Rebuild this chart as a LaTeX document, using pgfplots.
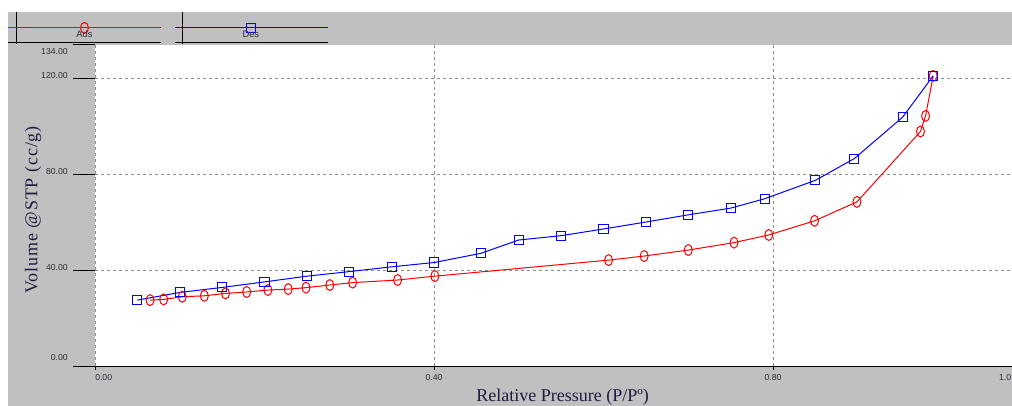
\documentclass[border=0pt]{standalone}
\usepackage{pgfplots}
\pgfplotsset{compat=1.18}
\usepackage{fontspec}
\setmainfont{Liberation Serif}
\newfontfamily\arialf{Liberation Sans}
\definecolor{bggray}{RGB}{192,192,192}
\definecolor{adsred}{RGB}{255,0,0}
\definecolor{desblue}{RGB}{0,0,255}
\definecolor{gridgray}{RGB}{140,140,140}
\definecolor{labnavy}{RGB}{28,28,64}
\definecolor{tickgray}{RGB}{45,45,55}
\pgfplotsset{
  mylegend/.style={legend image code/.code={
    \draw[##1, mark repeat=2, mark phase=2] plot coordinates {(-57pt,0pt) (0pt,0pt) (57.75pt,0pt)};
    \draw[black, line width=0.75pt] (-57pt,-11.25pt) -- (57.75pt,-11.25pt);
    \draw[black, line width=0.75pt] (-51pt,11.5pt) -- (-51pt,-12.5pt);
    \node[font=\arialf\fontsize{7}{8}\selectfont, text=tickgray, inner sep=0pt] at (0pt,-5.6pt) {#1};
  }}
}
\begin{document}
\begin{tikzpicture}
\useasboundingbox (0,0) rectangle (759pt,304.5pt);
\clip (0,0) rectangle (759pt,304.5pt);
\fill[white] (0,0) rectangle (759pt,304.5pt);
\fill[bggray] (6pt,0) rectangle (759pt,295.7pt);
\begin{axis}[
  at={(71.25pt,30pt)}, anchor=south west,
  scale only axis, width=687.75pt, height=240.75pt,
  xmin=0, xmax=1.082, ymin=0, ymax=134,
  axis background/.style={fill=white},
  axis x line*=bottom, axis y line*=left,
  x axis line style={black, line width=0.75pt},
  y axis line style={draw=none},
  xtick={0,0.4,0.8}, xticklabels={,0.40,0.80},
  ytick={40,80,120}, yticklabels={40.00,80.00,120.00},
  grid=major,
  major grid style={gridgray, dash pattern=on 2.25pt off 2.25pt, line width=0.6pt},
  tick align=outside, major tick length=3pt,
  xtick style={black, line width=0.6pt},
  ytick style={draw=none},
  tick label style={font=\arialf\fontsize{6.5}{7}\selectfont, text=tickgray},
  xticklabel style={inner sep=0pt},
  xticklabel shift=3.4pt,
  yticklabel style={inner sep=0pt, yshift=2.25pt},
  yticklabel shift=17.25pt,
  xlabel={Relative Pressure (P/Pº)},
  xlabel style={at={(axis description cs:0.510,-0.0966)}, anchor=center,
    font=\fontsize{13.5}{16}\selectfont, text=labnavy},
  ylabel={Volume @STP (cc/g)},
  ylabel style={at={(axis description cs:-0.0676,0.486)}, anchor=center,
    font=\fontsize{13.5}{15}\selectfont\addfontfeature{LetterSpace=5}, text=labnavy},
  legend columns=2,
  legend style={at={(axis description cs:-0.0949,1.1028)}, anchor=north west,
    draw=none, fill=none, inner sep=0pt, outer sep=0pt,
    nodes={inner sep=0pt, outer sep=0pt},
    /tikz/every even column/.append style={column sep=8.25pt}},
  clip=false,
]
\addplot[adsred, line width=0.75pt, mark=o, mark size=4.1pt,
  mark options={solid, xscale=0.73}, mylegend={Ads}] coordinates {
  (0.065,27.5) (0.081,27.8) (0.103,28.9) (0.129,29.3) (0.154,30.3)
  (0.179,30.9) (0.204,31.7) (0.228,32.1) (0.249,32.7) (0.277,33.8)
  (0.304,34.8) (0.357,35.9) (0.401,37.5) (0.606,44.2) (0.648,45.9)
  (0.700,48.4) (0.754,51.5) (0.795,54.7) (0.849,60.6) (0.899,68.5)
  (0.974,97.9) (0.980,104.4) (0.989,121.1)
};
\addlegendentry{\hbox{}}
\addplot[desblue, line width=0.75pt, mark=square, mark size=3.4pt,
  mark options={solid}, mylegend={Des}] coordinates {
  (0.05,27.5) (0.10,30.7) (0.15,32.8) (0.20,35.1) (0.25,37.5)
  (0.30,39.4) (0.35,41.4) (0.40,43.2) (0.455,47.0) (0.50,52.6)
  (0.55,54.4) (0.60,57.2) (0.65,60.1) (0.70,63.1) (0.75,65.9)
  (0.79,69.8) (0.85,77.5) (0.896,86.6) (0.953,103.9) (0.989,121.1)
};
\addlegendentry{\hbox{}}
% long outward y ticks
\draw[black, line width=0.75pt] (axis cs:0,0) -- ++(-16.5pt,0pt);
\draw[black, line width=0.75pt] (axis cs:0,40) -- ++(-16.5pt,0pt);
\draw[black, line width=0.75pt] (axis cs:0,80) -- ++(-16.5pt,0pt);
\draw[black, line width=0.75pt] (axis cs:0,120) -- ++(-16.5pt,0pt);
\draw[black, line width=0.75pt] (axis cs:0,134) -- ++(-16.5pt,0pt);
% edge tick labels
\node[anchor=east, inner sep=0pt, font=\arialf\fontsize{6.5}{7}\selectfont, text=tickgray]
  at ([xshift=-20.25pt, yshift=6pt]axis cs:0,0) {0.00};
\node[anchor=east, inner sep=0pt, font=\arialf\fontsize{6.5}{7}\selectfont, text=tickgray]
  at ([xshift=-20.25pt, yshift=-5pt]axis cs:0,134) {134.00};
\node[anchor=north west, inner sep=0pt, font=\arialf\fontsize{6.5}{7}\selectfont, text=tickgray]
  at ([yshift=-6.3pt]axis cs:0,0) {0.00};
\node[anchor=north east, inner sep=0pt, font=\arialf\fontsize{6.5}{7}\selectfont, text=tickgray]
  at ([yshift=-6.3pt, xshift=-0.4pt]axis cs:1.082,0) {1.0};
\end{axis}
\end{tikzpicture}
\end{document}
